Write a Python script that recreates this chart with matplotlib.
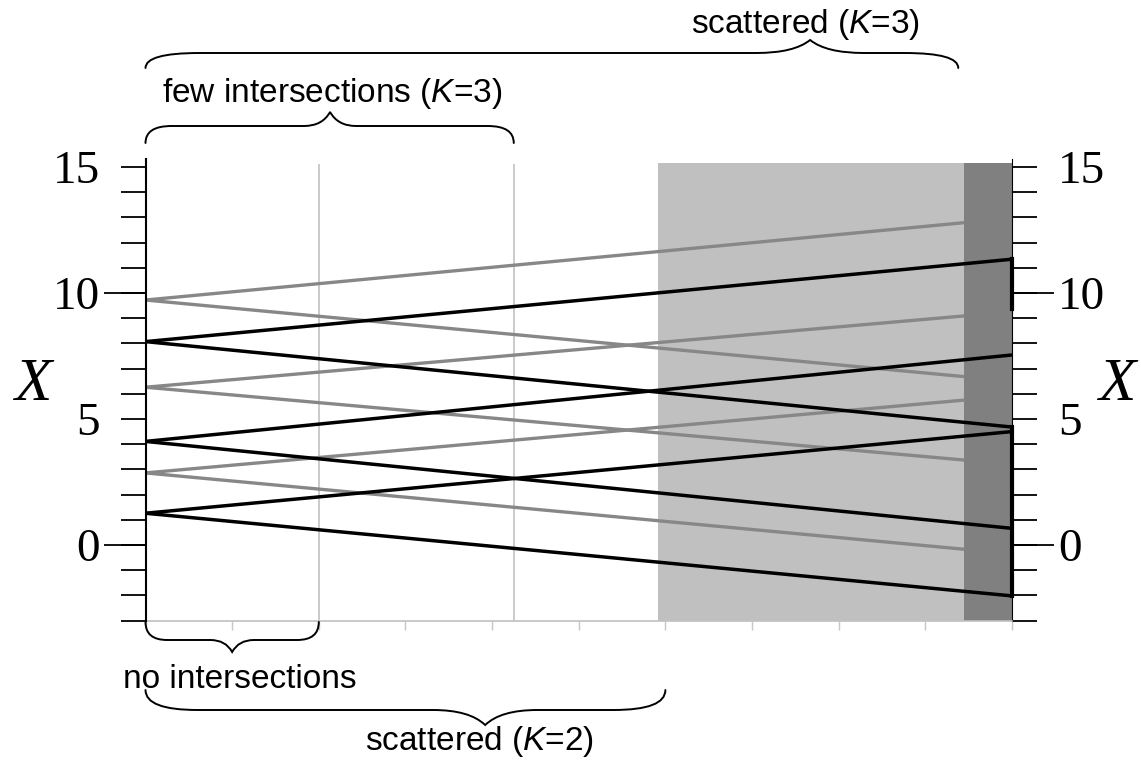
import matplotlib
matplotlib.use("Agg")
import matplotlib.pyplot as plt
from matplotlib.path import Path
from matplotlib.patches import PathPatch
from matplotlib.transforms import blended_transform_factory

plt.rcParams["font.family"] = ["Liberation Sans", "DejaVu Sans"]
plt.rcParams["mathtext.fontset"] = "custom"
plt.rcParams["mathtext.rm"] = "Liberation Sans"
plt.rcParams["mathtext.it"] = "Liberation Sans:italic"

# ---- data -------------------------------------------------------------
# paths starting at t = 0, each splitting into a rising and a falling branch
black_origin = [8.07, 4.11, 1.26]
black_up_end = [11.34, 7.54, 4.50]
black_down_end = [4.68, 0.66, -2.02]
gray_origin = [9.72, 6.26, 2.86]
gray_up_end = [12.79, 9.09, 5.75]
gray_down_end = [6.68, 3.37, -0.17]

# vertical black pieces on the right boundary (from, to)
edge_from = [11.34, 4.68]
edge_to = [9.37, -2.02]

t_black_end = 10.0
t_gray_end = 9.45
t_marks = [2.0, 4.25]          # light vertical guide lines
t_shade = 5.92                 # light grey band start
t_dark = 9.45                  # dark grey band start

y_ticks_major = [0, 5, 10, 15]
y_ticks_minor = list(range(-3, 16))
y_long_ticks = [0, 10]
x_ticks = list(range(0, 11))

# brace annotations: (left, right, tip, label, label x)
brace_top_big = (0.0, 9.38, 7.67, "scattered ($K$=3)", 7.62)
brace_top_small = (0.0, 4.25, 2.13, "few intersections ($K$=3)", 2.16)
brace_bot_small = (0.0, 2.0, 1.0, "no intersections", 1.09)
brace_bot_big = (0.0, 6.0, 3.92, "scattered ($K$=2)", 3.85)

# ---- figure -----------------------------------------------------------
W, H = 1141, 761
fig = plt.figure(figsize=(W / 100, H / 100), dpi=100)
ax_w = (1012 - 145.5) / W
ax = fig.add_axes([145.5 / W, 1 - 620.6 / H, ax_w, (620.6 - 159.4) / H])
ax.set_xlim(0, 10)
ax.set_ylim(-3, 15.3)

GRAY = "#878787"
LIGHT = "#c0c0c0"
DARK = "#808080"

# background bands and guide lines
ax.fill_betweenx([-3, 15.15], t_shade, t_dark, color=LIGHT, lw=0, zorder=1)
ax.fill_betweenx([-3, 15.15], t_dark, t_black_end, color=DARK, lw=0, zorder=1)
ax.vlines(t_marks, -3, 15.1, color="#c6c6c6", lw=1.3, zorder=1)

# branches
for y0, yu, yd in zip(gray_origin, gray_up_end, gray_down_end):
    for y1 in (yu, yd):
        ax.plot([0, t_gray_end], [y0, y1], color=GRAY, lw=2.4,
                solid_capstyle="butt", zorder=3)
for y0, yu, yd in zip(black_origin, black_up_end, black_down_end):
    for y1 in (yu, yd):
        ax.plot([0, t_black_end], [y0, y1], color="black", lw=2.5,
                solid_capstyle="butt", zorder=4)
for a, b in zip(edge_from, edge_to):
    ax.plot([t_black_end, t_black_end], [a, b], color="black", lw=3.0,
            solid_capstyle="projecting", zorder=4, clip_on=False)

# spines
ax.spines["top"].set_visible(False)
ax.spines["left"].set_color("black")
ax.spines["left"].set_linewidth(1.5)
ax.spines["right"].set_color("black")
ax.spines["right"].set_linewidth(0.8)
ax.spines["bottom"].set_color(LIGHT)
ax.spines["bottom"].set_linewidth(1.2)
ax.spines["left"].set_zorder(5)

# x ticks (unlabelled)
ax.set_xticks(x_ticks)
ax.tick_params(axis="x", direction="out", length=6.5, width=1.0,
               color="#c6c6c6", labelbottom=False)

# y ticks on both sides
ax.set_yticks(y_ticks_major)
ax.set_yticks(y_ticks_minor, minor=True)
ax.tick_params(axis="y", which="both", direction="out", length=18, width=1.3,
               left=True, right=True, color="black")
ax.tick_params(axis="y", which="major", labelleft=True, labelright=True,
               pad=15, labelsize=34, labelfontfamily="Liberation Serif")

# longer ticks at 0 and 10 on both sides
tick_tr = blended_transform_factory(ax.transAxes, ax.transData)
long_len = 42 / (1012 - 145.5)
for v in y_long_ticks:
    ax.plot([-long_len, 0], [v, v], color="black", lw=1.3,
            transform=tick_tr, clip_on=False, solid_capstyle="butt")
    ax.plot([1, 1 + long_len], [v, v], color="black", lw=1.3,
            transform=tick_tr, clip_on=False, solid_capstyle="butt")

# axis titles
yx = 1 - 385 / H
fig.text(33 / W, yx, "X", family="Liberation Serif", style="italic",
         fontsize=44, ha="center", va="center")
fig.text(1117 / W, yx, "X", family="Liberation Serif", style="italic",
         fontsize=44, ha="center", va="center")

# braces
trans = blended_transform_factory(ax.transData, fig.transFigure)


def fy(py):
    return 1 - py / H


def brace(xl, xr, xt, y_end, y_mid, y_tip, r):
    ye, ym, yt = fy(y_end), fy(y_mid), fy(y_tip)
    verts = [
        (xl, ye), (xl, ym), (xl + r, ym),
        (xt - r, ym),
        (xt - 0.3 * r, ym), (xt, yt),
        (xt + 0.3 * r, ym), (xt + r, ym),
        (xr - r, ym),
        (xr, ym), (xr, ye),
    ]
    codes = [Path.MOVETO, Path.CURVE3, Path.CURVE3, Path.LINETO,
             Path.CURVE3, Path.CURVE3, Path.CURVE3, Path.CURVE3,
             Path.LINETO, Path.CURVE3, Path.CURVE3]
    patch = PathPatch(Path(verts, codes), fill=False, ec="black", lw=1.4,
                      transform=trans, clip_on=False, capstyle="round")
    fig.add_artist(patch)


def labelled_brace(spec, y_end, y_mid, y_tip, r, text_base):
    xl, xr, xt, text, tx = spec
    brace(xl, xr, xt, y_end, y_mid, y_tip, r)
    fig.text(0, 0, text, transform=trans, fontsize=24, ha="center",
             va="baseline").set_position((tx, fy(text_base)))


labelled_brace(brace_top_big, 68, 53, 40, 0.62, 33)
labelled_brace(brace_top_small, 143, 126, 112, 0.3, 102)
labelled_brace(brace_bot_small, 622, 640, 652, 0.25, 688)
labelled_brace(brace_bot_big, 690, 710, 725, 0.6, 750)

fig.savefig("out.png", dpi=100)
